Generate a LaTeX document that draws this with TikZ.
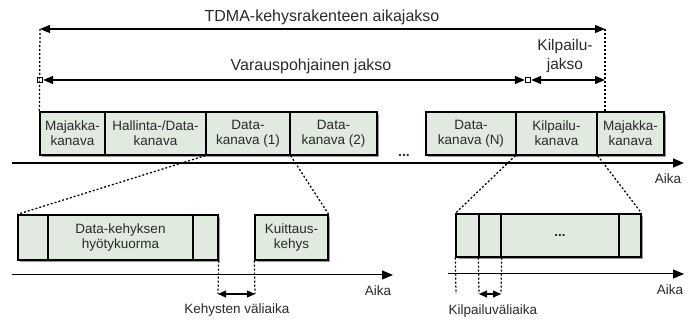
\documentclass[tikz,border=0pt]{standalone}
\usepackage{fontspec}
\setmainfont{Liberation Sans}
\usetikzlibrary{arrows.meta,shadows}
\definecolor{chanfill}{HTML}{E0EADF}
\definecolor{txt}{HTML}{2A2A2A}
\definecolor{shade}{HTML}{9A9A9A}
\tikzset{
  chan/.style={draw=black, fill=chanfill, line width=1.3pt, inner sep=0pt,
    align=center, text=txt, font=\fontsize{13.5}{15}\selectfont,
    drop shadow={shadow xshift=2pt, shadow yshift=-2pt, fill=shade, opacity=1}},
  lbl/.style={text=txt, align=center, inner sep=0pt},
  biglbl/.style={lbl, font=\fontsize{16}{18}\selectfont},
  smalllbl/.style={lbl, font=\fontsize{13.5}{15}\selectfont},
  span/.style={line width=1.2pt, {Triangle[length=10pt,width=8pt]}-{Triangle[length=10pt,width=8pt]}},
  shortspan/.style={line width=1.2pt, {Triangle[length=8pt,width=7pt]}-{Triangle[length=8pt,width=7pt]}},
  axis/.style={line width=1.4pt, -{Triangle[length=11pt,width=9pt]}},
  dotline/.style={line width=1.25pt, dash pattern=on 2pt off 2pt},
  marker/.style={draw, fill=white, line width=0.8pt, minimum size=5.5pt, inner sep=0pt}
}
\begin{document}
\begin{tikzpicture}[x=1pt, y=-1pt]
\useasboundingbox (0,0) rectangle (694,320);

% --- frame period ---
\node[biglbl] (title) at (322,17) {TDMA-kehysrakenteen aikajakso};
\coordinate (fl) at (40,29);
\coordinate (fr) at (605,29);
\draw[span] (fl) -- (fr);

% --- reservation and contention periods ---
\node[biglbl] (resv) at (311,66) {Varauspohjainen jakso};
\node[biglbl, font=\fontsize{15.5}{18.5}\selectfont] (cont) at (565,56) {Kilpailu-\\jakso};
\node[marker] (m1) at (40,80) {};
\node[marker] (m2) at (528,80) {};
\coordinate (cr) at (605,80);
\draw[span] (m1.east) -- (m2.west);
\draw[span] (m2.east) -- (cr);

% --- channels of one frame ---
\node[chan, minimum width=65pt, minimum height=43pt] (b1) at (72.5,133.5) {Majakka-\\kanava};
\node[chan, minimum width=101pt, minimum height=43pt] (b2) at (155.5,133.5) {Hallinta-/Data-\\kanava};
\node[chan, minimum width=84pt, minimum height=43pt] (b3) at (248,133.5) {Data-\\kanava (1)};
\node[chan, minimum width=87pt, minimum height=43pt] (b4) at (333.5,133.5) {Data-\\kanava (2)};
\node[smalllbl, font=\fontsize{14}{16}\selectfont\bfseries] (dots) at (404,155) {...};
\node[chan, minimum width=90pt, minimum height=43pt] (b5) at (471,133.5) {Data-\\kanava (N)};
\node[chan, minimum width=81pt, minimum height=43pt] (b6) at (556.5,133.5) {Kilpailu-\\kanava};
\node[chan, minimum width=67pt, minimum height=43pt] (b7) at (630.5,133.5) {Majakka-\\kanava};

\draw[dotline] (fl) -- (b1.north west);
\draw[dotline] (fr) -- (b7.north west -| fr);

% main time axis
\coordinate (ax0) at (12,163);
\coordinate (ax1) at (684,163);
\draw[axis] (ax0) -- (ax1);
\node[smalllbl] (aika1) at (668,179) {Aika};

% --- data channel detail ---
\node[chan, minimum width=30pt, minimum height=45pt] (c1) at (33,237.5) {};
\node[chan, minimum width=145pt, minimum height=45pt] (c2) at (120.5,237.5) {Data-kehyksen\\hyötykuorma};
\node[chan, minimum width=25pt, minimum height=45pt] (c3) at (205.5,237.5) {};
\node[chan, minimum width=73pt, minimum height=45pt] (ack) at (291.5,237.5) {Kuittaus-\\kehys};

\draw[dotline] (b3.south west) -- (c1.north west);
\draw[dotline] (b3.south east) -- (ack.north east);

\coordinate (ax2) at (12,275);
\coordinate (ax3) at (393,275);
\draw[axis, line width=1pt] (ax2) -- (ax3);
\node[smalllbl] (aika2) at (378,291) {Aika};

\coordinate (g1) at (218,294);
\coordinate (g2) at (255,294);
\draw[dotline] (c3.south east) -- (g1);
\draw[dotline] (ack.south west) -- (g2);
\draw[shortspan] (g1) -- (g2);
\node[smalllbl] (gap) at (237,310) {Kehysten väliaika};

% --- contention channel detail ---
\node[chan, minimum width=23pt, minimum height=43pt] (d1) at (467.5,235.5) {};
\node[chan, minimum width=22pt, minimum height=43pt] (d2) at (490,235.5) {};
\node[chan, minimum width=118pt, minimum height=43pt] (d3) at (560,235.5) {\bfseries ...};
\node[chan, minimum width=22pt, minimum height=43pt] (d4) at (630,235.5) {};

\draw[dotline] (b6.south west) -- (d1.north west);
\draw[dotline] (b6.south east) -- (d4.north east);

\coordinate (ax4) at (448,274);
\coordinate (ax5) at (684,274);
\draw[axis, line width=1pt] (ax4) -- (ax5);
\node[smalllbl] (aika3) at (670,290) {Aika};

\coordinate (h0) at (456,294);
\coordinate (h1) at (479,294);
\coordinate (h2) at (501,294);
\draw[dotline] (d1.south west) -- (h0);
\draw[dotline] (d2.south west) -- (h1);
\draw[dotline] (d2.south east) -- (h2);
\draw[shortspan] (h1) -- (h2);
\node[smalllbl] (cgap) at (493,311) {Kilpailuväliaika};
\end{tikzpicture}
\end{document}
